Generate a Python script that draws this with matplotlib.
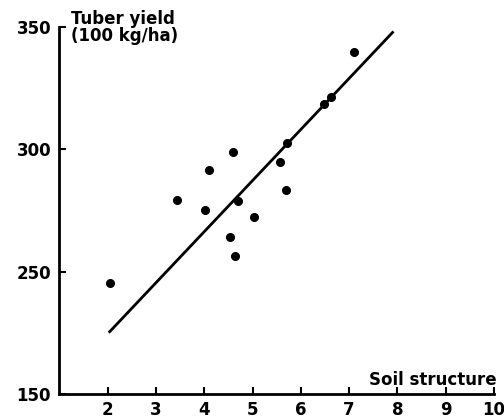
import matplotlib
matplotlib.use("Agg")
import matplotlib.pyplot as plt

# soil structure score vs tuber yield (100 kg/ha)
soil = [2.04, 3.44, 4.02, 4.10, 4.54, 4.59, 4.64, 4.69, 5.02, 5.56, 5.69, 5.71, 6.47, 6.62, 7.11]
yield_ = [245.5, 279.2, 275.1, 291.5, 264.0, 298.8, 256.4, 278.7, 272.3, 294.7, 283.3, 302.6, 318.3, 321.4, 339.8]

# fitted line end points
line_x = [2.04, 7.90]
line_y = [225.4, 347.7]

x_ticks = [2, 3, 4, 5, 6, 7, 8, 9, 10]
y_ticks = [200, 250, 300, 350]
y_tick_labels = ["150", "250", "300", "350"]  # axis is broken below 250

plt.rcParams['font.family'] = ['DejaVu Sans']
fig = plt.figure(figsize=(5.04, 4.19), dpi=100)
ax = fig.add_axes([0.118, 0.06, 0.862, 0.876])

ax.plot(line_x, line_y, color='black', lw=2)
ax.plot(soil, yield_, 'o', color='black', markersize=5.5)

ax.set_xlim(1, 10)
ax.set_ylim(200, 350)
ax.set_xticks(x_ticks)
ax.set_xticklabels([str(t) for t in x_ticks], fontsize=12, fontweight='bold')
ax.set_yticks(y_ticks)
ax.set_yticklabels(y_tick_labels, fontsize=12, fontweight='bold')
ax.tick_params(direction='in', length=5, width=1.5, pad=5)
ax.tick_params(axis='y', pad=6)

for s in ['top', 'right']:
    ax.spines[s].set_visible(False)
for s in ['left', 'bottom']:
    ax.spines[s].set_linewidth(2)

ax.text(1.23, 357, "Tuber yield\n(100 kg/ha)", fontsize=12, fontweight='bold',
        va='top', ha='left', linespacing=0.95, clip_on=False)
ax.text(10.05, 202, "Soil structure", fontsize=12, fontweight='bold',
        va='bottom', ha='right', clip_on=False)

fig.savefig("out.png", dpi=100)
